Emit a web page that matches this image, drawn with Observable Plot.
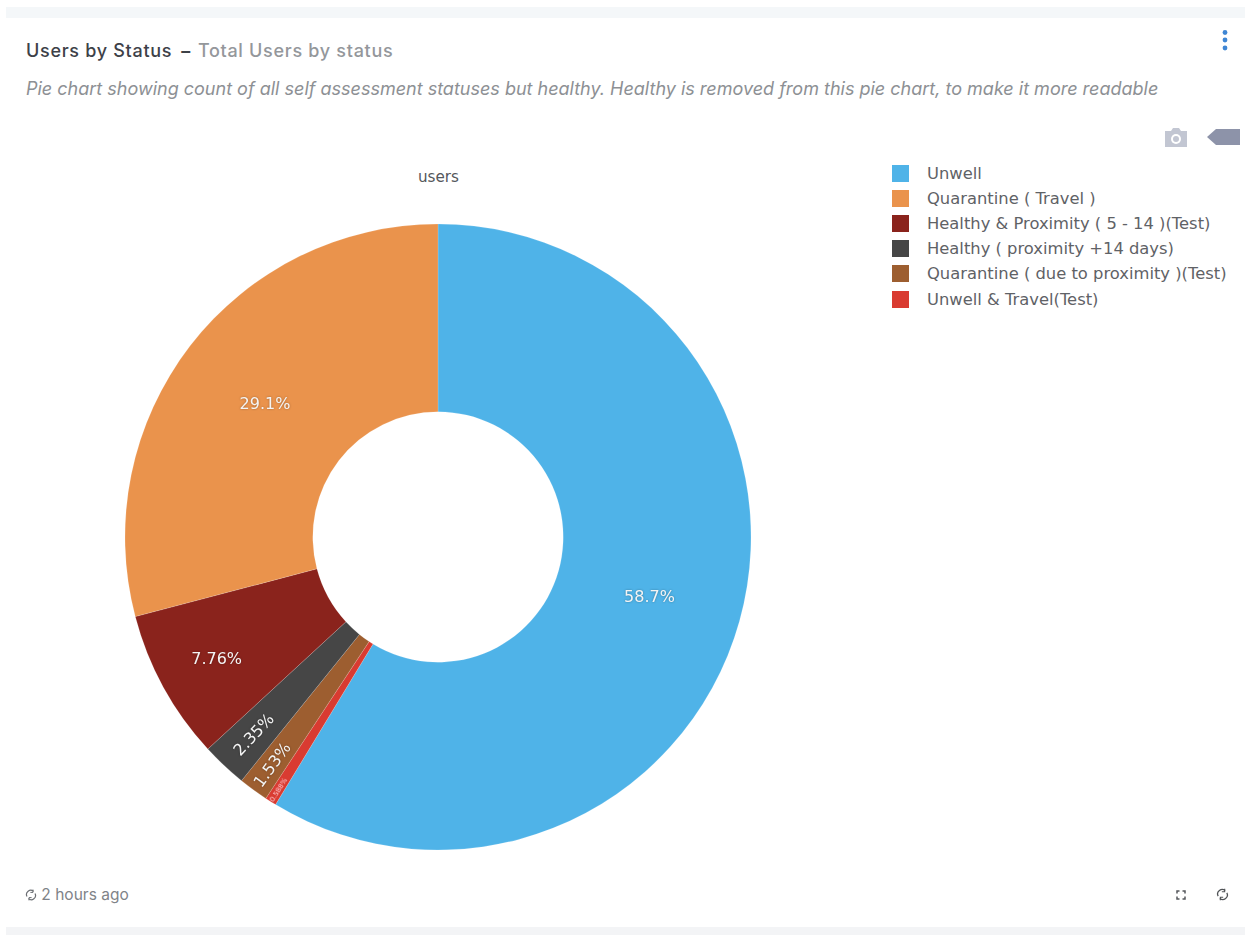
<!DOCTYPE html>
<html>
<head>
<meta charset="utf-8">
<script src="https://cdn.jsdelivr.net/npm/d3@7"></script>
<script src="https://cdn.jsdelivr.net/npm/@observablehq/plot@0.6"></script>
<style>
  html, body { margin: 0; padding: 0; background: #fff; width: 1245px; height: 935px; overflow: hidden; }
  #page { position: relative; width: 1245px; height: 935px; font-family: Inter, Roboto, sans-serif; }
  .abs { position: absolute; white-space: nowrap; }
  #chart svg { position: absolute; left: 0; top: 0; background: transparent; }
</style>
</head>
<body>
<div id="page">
  <div class="abs" style="left:6px;top:7px;width:1239px;height:11px;background:#f4f7f9"></div>
  <div class="abs" style="left:6px;top:927px;width:1239px;height:8px;background:#f3f4f6"></div>
  <div id="chart"></div>
  <div class="abs" style="left:26px;top:40px;font-size:18px;line-height:21px;letter-spacing:0.7px;color:#3d4148;font-weight:500">Users by Status<span style="font-weight:600;margin:0 7px 0 9px">–</span><span style="color:#94979b;font-weight:500">Total Users by status</span></div>
  <div class="abs" style="left:26px;top:79px;font-size:18px;line-height:20px;font-style:italic;color:#8d9094">Pie chart showing count of all self assessment statuses but healthy. Healthy is removed from this pie chart, to make it more readable</div>
  <div class="abs" style="left:25px;top:885px;font-size:15.5px;line-height:19px;color:#7f8388">
    <svg width="12" height="12" viewBox="0 0 12 12" style="vertical-align:-1px" fill="none" stroke="#6b6e73" stroke-width="1.2"><path d="M2 7.5A4.2 4.2 0 0 1 8.5 2.4M10 4.5A4.2 4.2 0 0 1 3.5 9.6"/><path d="M8 .6v2.8h-2.6M4 11.4V8.6h2.6" stroke-width="1"/></svg> 2 hours ago</div>
  <svg class="abs" style="left:1219px;top:29px" width="12" height="24"><g fill="#3f86d4"><circle cx="6" cy="3.5" r="2.4"/><circle cx="6" cy="11" r="2.4"/><circle cx="6" cy="19" r="2.4"/></g></svg>
  <svg class="abs" style="left:1164px;top:127px" width="24" height="22" viewBox="0 0 24 22"><path fill="#c2c6d2" d="M1 4h6l2-3h6l2 3h6v16H1z"/><circle cx="12" cy="12" r="5" fill="#fff"/><circle cx="12" cy="12" r="3" fill="#c2c6d2"/></svg>
  <svg class="abs" style="left:1207px;top:128px" width="33" height="18"><path fill="#8d93a9" d="M0 9L9 1H33V17H9z"/></svg>
  <svg class="abs" style="left:1176px;top:890px" width="10" height="10"><path fill="none" stroke="#55585c" stroke-width="1.5" d="M1 3.5V1H3.5M6.5 1H9V3.5M9 6.5V9H6.5M3.5 9H1V6.5"/></svg>
  <svg class="abs" style="left:1216px;top:888px" width="13" height="13" viewBox="0 0 12 12" fill="none" stroke="#505356" stroke-width="1.2"><path d="M2 7.5A4.2 4.2 0 0 1 8.5 2.4M10 4.5A4.2 4.2 0 0 1 3.5 9.6"/><path d="M8 .6v2.8h-2.6M4 11.4V8.6h2.6" stroke-width="1"/></svg>
</div>
<script>
// Legend order
const statuses = [
  "Unwell",
  "Quarantine ( Travel )",
  "Healthy & Proximity ( 5 - 14 )(Test)",
  "Healthy ( proximity +14 days)",
  "Quarantine ( due to proximity )(Test)",
  "Unwell & Travel(Test)"
];
const shares = [58.7, 29.1, 7.76, 2.35, 1.53, 0.588];
const shareLabels = ["58.7%", "29.1%", "7.76%", "2.35%", "1.53%", "0.588%"];
const colors = ["#4fb3e8", "#ea934c", "#8a231c", "#464646", "#9d5e30", "#d93b31"];
// Clockwise drawing order, starting at twelve o'clock
const clockwise = [0, 5, 4, 3, 2, 1];

const HOLE = 0.4;
const pie = d3.pie().sort(null).value(i => shares[i])(clockwise);
const slices = pie.map(p => {
  const i = p.data;
  const mid = (p.startAngle + p.endAngle) / 2;
  // Large slices centre their label; narrow ones push it outward, and the narrowest turn radially
  const radial = shares[i] < 3;
  const r = shares[i] < 1 ? 0.955 : shares[i] < 2 ? 0.9 : radial ? 0.863 : shares[i] < 10 ? 0.808 : (1 + HOLE) / 2;
  return {
    status: statuses[i], label: shareLabels[i],
    start: p.startAngle, end: p.endAngle,
    lx: r * Math.sin(mid), ly: r * Math.cos(mid),
    rotate: radial ? mid * 180 / Math.PI - 270 : 0,
    size: shares[i] < 1 ? 7 : 16,
    fill: shares[i] < 1 ? "#ffc9cf" : "#f4f4f4"
  };
});

const chart = Plot.plot({
  width: 1245, height: 935,
  margin: 0,
  x: {domain: [-1, 1], range: [125, 751], axis: null},
  y: {domain: [-1, 1], range: [850, 224], axis: null},
  color: {domain: statuses, range: colors},
  style: {background: "transparent", overflow: "visible"},
  marks: [
    Plot.dot(slices, {
      x: () => 0, y: () => 0, fill: "status",
      render(index, scales, values) {
        const cx = scales.x(0), cy = scales.y(0), R = scales.x(1) - cx;
        const arc = d3.arc().innerRadius(R * HOLE).outerRadius(R);
        const g = d3.create("svg:g").attr("transform", `translate(${cx},${cy})`);
        for (const i of index) {
          g.append("path")
            .attr("d", arc({startAngle: slices[i].start, endAngle: slices[i].end}))
            .attr("fill", values.fill[i])
            .attr("stroke", "#ffffff")
            .attr("stroke-opacity", 0.3)
            .attr("stroke-width", 0.5);
        }
        return g.node();
      }
    }),
    ...[16, 7].map(size => Plot.text(slices.filter(d => d.size === size), {
      x: "lx", y: "ly", text: "label", rotate: "rotate", fill: d => d.fill,
      fontSize: size, fontFamily: "DejaVu Sans",
      imageFilter: size === 16 ? "drop-shadow(0 0 1px rgba(0,0,0,0.3))" : undefined
    })),
    Plot.text(["users"], {x: () => 0, y: () => 1.15, text: d => d, fontSize: 15.2, fontFamily: "DejaVu Sans", fill: "#55585c"})
  ]
});
document.getElementById("chart").appendChild(chart);

const legend = chart.legend("color", {columns: 1, swatchSize: 17, label: null});
legend.style.cssText += ";position:absolute;left:892px;top:160.5px;margin:0;width:350px;font:16.35px 'DejaVu Sans',sans-serif;color:#5f6266;columns:auto;";
legend.querySelectorAll("svg").forEach(s => {
  s.style.marginRight = "18px";
  s.parentElement.style.height = "25.2px";
  s.parentElement.style.padding = "0";
});
document.getElementById("page").appendChild(legend);
</script>
</body>
</html>
